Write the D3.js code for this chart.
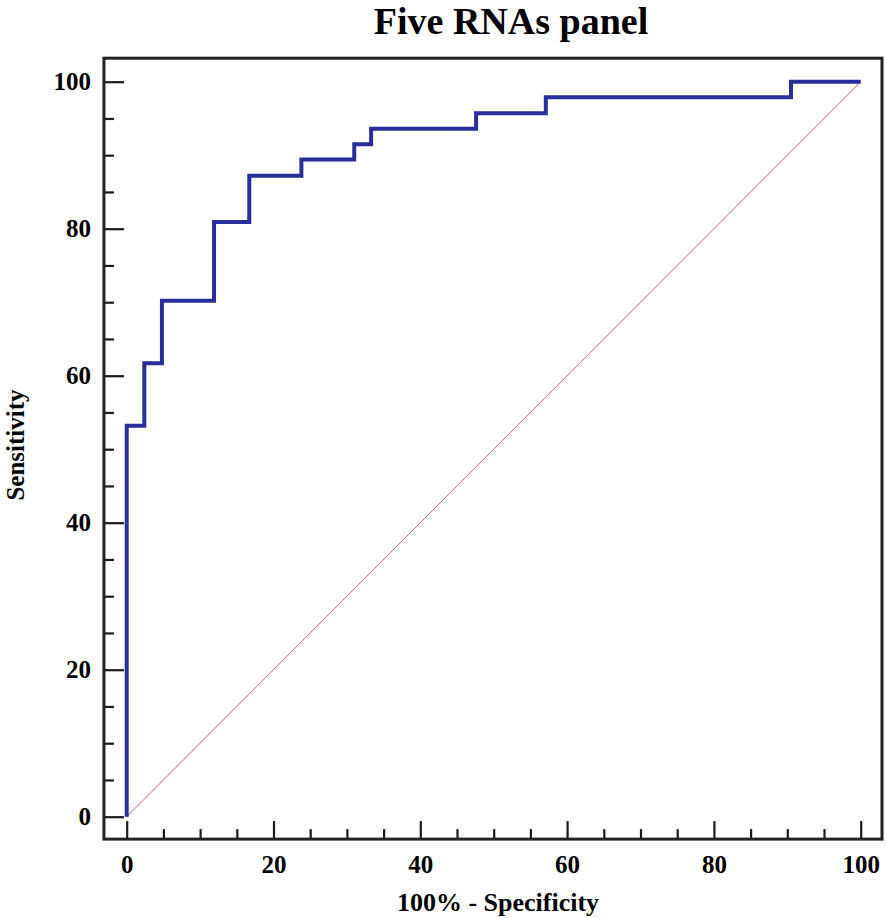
<!DOCTYPE html>
<html>
<head>
<meta charset="utf-8">
<script src="https://cdn.jsdelivr.net/npm/d3@7"></script>
<style>
  body { margin: 0; background: #fff; }
  text { font-family: "Liberation Serif", "Times New Roman", serif; font-weight: bold; }
</style>
</head>
<body>
<div id="chart"></div>
<script>
// ROC curve points (100% - specificity, sensitivity), step after
const fpr = [0, 0, 2.4, 4.8, 11.9, 16.7, 23.8, 31.0, 33.3, 47.6, 57.1, 90.5, 100];
const tpr = [0, 53.2, 61.7, 70.2, 80.9, 87.2, 89.4, 91.5, 93.6, 95.7, 97.9, 100, 100];
const majorTicks = [0, 20, 40, 60, 80, 100];
const minorTicks = [5, 10, 15, 25, 30, 35, 45, 50, 55, 65, 70, 75, 85, 90, 95];

const W = 886, H = 918;

const svg = d3.select("#chart").append("svg")
    .attr("width", W)
    .attr("height", H);

// scales: 0..100 mapped, frame extends a bit beyond
const x = d3.scaleLinear().domain([0, 100]).range([126.7, 860.7]);
const y = d3.scaleLinear().domain([0, 100]).range([816.7, 81.7]);

const frameL = x(-3.1), frameR = x(102.9), frameT = y(103.2), frameB = y(-3.05);

// title
svg.append("text")
    .attr("x", 511)
    .attr("y", 34)
    .attr("text-anchor", "middle")
    .attr("font-size", "38px")
    .text("Five RNAs panel");

// chance diagonal
svg.append("line")
    .attr("x1", x(0)).attr("y1", y(0))
    .attr("x2", x(100)).attr("y2", y(100))
    .attr("stroke", "#c46a66")
    .attr("stroke-width", 1);

// roc step line
const rocLine = d3.line()
    .x(d => x(d[0]))
    .y(d => y(d[1]))
    .curve(d3.curveStepAfter);

svg.append("path")
    .datum(fpr.map((v, i) => [v, tpr[i]]))
    .attr("d", rocLine)
    .attr("fill", "none")
    .attr("stroke", "#2a2d9c")
    .attr("stroke-width", 4)
    .attr("stroke-linejoin", "miter");

// axes
svg.append("g")
    .attr("transform", `translate(0,${frameB})`)
    .call(d3.axisBottom(x).tickValues(majorTicks).tickSizeInner(-18).tickSizeOuter(0).tickPadding(16));

svg.append("g")
    .attr("transform", `translate(0,${frameB})`)
    .call(d3.axisBottom(x).tickValues(minorTicks).tickSizeInner(-10).tickSizeOuter(0).tickFormat(""));

svg.append("g")
    .attr("transform", `translate(${frameL},0)`)
    .call(d3.axisLeft(y).tickValues(majorTicks).tickSizeInner(-20).tickSizeOuter(0).tickPadding(13));

svg.append("g")
    .attr("transform", `translate(${frameL},0)`)
    .call(d3.axisLeft(y).tickValues(minorTicks).tickSizeInner(-10).tickSizeOuter(0).tickFormat(""));

svg.selectAll(".domain").remove();
svg.selectAll(".tick line").attr("stroke", "#1a1a1a").attr("stroke-width", 2.2);
svg.selectAll(".tick text")
    .attr("font-size", "25px")
    .attr("fill", "#000")
    .style("font-family", "Liberation Serif, serif")
    .style("font-weight", "bold");

// frame
svg.append("rect")
    .attr("x", frameL)
    .attr("y", frameT)
    .attr("width", frameR - frameL)
    .attr("height", frameB - frameT)
    .attr("fill", "none")
    .attr("stroke", "#222")
    .attr("stroke-width", 3);

// axis titles
svg.append("text")
    .attr("x", 498)
    .attr("y", 911)
    .attr("text-anchor", "middle")
    .attr("font-size", "26px")
    .text("100% - Specificity");

svg.append("text")
    .attr("transform", `translate(24,445) rotate(-90)`)
    .attr("text-anchor", "middle")
    .attr("font-size", "25px")
    .text("Sensitivity");
</script>
</body>
</html>
